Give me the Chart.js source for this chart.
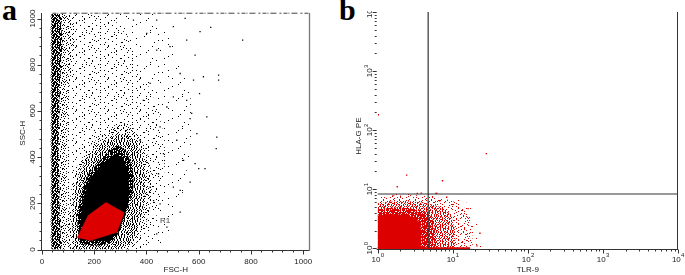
<!DOCTYPE html>
<html>
<head>
<meta charset="utf-8">
<script src="https://cdn.jsdelivr.net/npm/chart.js@4.4.1/dist/chart.umd.min.js"></script>
<style>
  html, body { margin: 0; padding: 0; background: #fff; overflow: hidden; }
  body { width: 685px; height: 275px; position: relative; }
  .tag { position: absolute; top: -5px; font: bold 30px/30px "Liberation Serif", "Times New Roman", serif; color: #000; }
  #wrapA { position: absolute; left: 0; top: 0; width: 330px; height: 275px; }
  #wrapB { position: absolute; left: 340px; top: 11px; width: 345px; height: 264px; overflow: hidden; }
  #chartB { position: absolute; left: 0; top: -3px; }
</style>
</head>
<body>
<div class="tag" style="left:2px">a</div>
<div class="tag" style="left:339px">b</div>
<div id="wrapA"><canvas id="chartA" width="330" height="275"></canvas></div>
<div id="wrapB"><canvas id="chartB" width="345" height="267"></canvas></div>

<script>
// ---------- panel a : FSC-H vs SSC-H (linear channels 0..1024)
const aTickLabels = ['0', '200', '400', '600', '800', '1000'];
const aMinorStep = 40;
const aTitleX = 'FSC-H';
const aTitleY = 'SSC-H';

// gate R1 (red events)
const aGateX = [135, 177, 245, 314, 286, 184];
const aGateY = [51, 147, 203, 159, 75, 39];
const aGateName = 'R1';
const aGateLabelAt = [471, 126];

// main population: solid core, dense ring, mid ring, halo
const aCoreInX = [155, 148, 160, 185, 230, 275, 310, 330, 335, 320, 295, 255];
const aCoreInY = [40, 140, 230, 310, 370, 410, 400, 330, 250, 160, 80, 35];
const aCoreX = [146, 139, 133, 146, 158, 178, 222, 260, 290, 320, 337, 350, 350, 337, 318, 292, 261, 200];
const aCoreY = [25, 68, 140, 213, 270, 328, 386, 430, 450, 430, 386, 328, 270, 213, 140, 68, 25, 15];
const aRingX = [120, 115, 125, 150, 190, 240, 290, 330, 365, 385, 395, 390, 370, 340, 300];
const aRingY = [0, 120, 260, 350, 420, 470, 500, 500, 460, 400, 300, 200, 100, 30, 0];
const aHaloX = [105, 100, 110, 130, 170, 220, 280, 330, 370, 400, 420, 420, 400, 370, 340];
const aHaloY = [0, 100, 250, 350, 430, 490, 540, 550, 500, 430, 330, 220, 120, 40, 0];

// debris column near the low FSC edge
const aColDenseX = [36, 36, 72, 78, 68, 64, 68, 74];
const aColDenseY = [0, 1020, 1020, 900, 700, 450, 150, 0];
const aColX = [33, 33, 120, 125, 105, 95, 95, 105];
const aColY = [0, 1020, 1020, 900, 700, 450, 150, 0];

// scattered events in the upper field
const aLightX = [60, 60, 260, 330, 380, 440, 470, 470, 450, 420, 380];
const aLightY = [0, 1020, 1020, 920, 780, 620, 480, 350, 200, 60, 0];
const aSparseX = [60, 60, 430, 520, 570, 570, 540, 500, 460];
const aSparseY = [0, 1020, 1020, 850, 650, 450, 250, 100, 0];

// single outlying events
const aOutX = [548, 605, 646, 768, 676, 573, 567, 603, 593, 669, 667, 586, 600, 624, 567, 529,
               529, 452, 478, 427, 446, 465, 452, 478, 503, 529, 490, 586, 580, 554, 516, 542,
               503, 439, 414, 631, 401, 439, 414, 388, 375, 503, 554, 439, 350, 618, 676];
const aOutY = [1001, 943, 962, 907, 733, 589, 567, 675, 502, 487, 437, 372, 350, 350, 292, 256,
               162, 198, 97, 212, 328, 415, 531, 617, 661, 762, 878, 842, 733, 646, 473, 386,
               270, 68, 270, 574, 936, 863, 719, 646, 473, 965, 907, 993, 993, 748, 755];

// events piled up on the top channel
const aTopRowX = [40, 1024];
const aTopRowY = [1023, 1023];

// ---------- panel b : TLR-9 vs HLA-G PE (log decades 10^0..10^4)
const bTickValues = [1, 10, 100, 1000, 10000];
const bTickExponents = ['0', '1', '2', '3', '4'];
const bTitleX = 'TLR-9';
const bTitleY = 'HLA-G PE';

const bQuadX = 4.7;
const bQuadY = 8.3;

const bCoreInX = [1, 1, 1.5, 2.2, 3, 3.6, 3.8, 3.8];
const bCoreInY = [1, 3.6, 3.8, 3.7, 3.4, 2.8, 2, 1];
const bCoreX = [1, 1, 1.6, 2.5, 3.5, 4.3, 5, 5.6, 5.8, 5.8];
const bCoreY = [1, 4.6, 4.9, 4.8, 4.5, 4.1, 3.6, 2.8, 2, 1];
const bMidX = [1, 1, 2, 3, 4.5, 6, 8, 9.5, 10.5, 11];
const bMidY = [1, 5.8, 6.3, 6.2, 5.8, 5.3, 4.6, 3.6, 2.3, 1];
const bLightX = [1, 1, 3, 5, 8, 11, 14, 16.5, 18, 18.5];
const bLightY = [1, 7.5, 8, 7.6, 6.8, 6, 5, 3.8, 2.4, 1];
const bSparseX = [1, 1, 5, 10, 15, 20, 24, 25];
const bSparseY = [1, 8.3, 8.5, 7.5, 6, 4, 2, 1];
const bBottomRowX = [1, 17];
const bBottomRowY = [1, 1];

const bOutX = [28, 1.02, 2.43, 1.82, 7.3, 5.97, 3.37, 3.8, 6.1, 6.7, 8.3, 16, 23, 1.6, 1.5, 21];
const bOutY = [40, 182, 17.3, 11, 13.9, 8.5, 8.5, 8.6, 8.5, 6.4, 7.3, 4.7, 1.8, 7.8, 6, 1.1];

// ---------- styles
const RED = '#dc0000';
const INK = '#222';
const FONT = '8px "Liberation Sans", Arial, sans-serif';
const SUP_FONT = '6px "Liberation Sans", Arial, sans-serif';

// speckle texture: a dot is drawn where the cell's rank is below the level
const RANKS = [
    '7k0qa3zm9xb1tc5w', 'e2yh8r6gs0nl4fu1', 'p9c3vd7j1ow5k2ai', '4xmz0b8qe6tyh3rg',
    's1l5nf2u9ca7pwd0', 'kjo6g3xi4ve8m1zb', '2t8r0hq5yl6sa9jn', 'dwc7pu1fk3xb0eo4',
    'm5ag9z2iv8rn6tc1', '0yhs4l7bqj1wgx3e', '9uf2oc6dm0pk5yi7', 'ra3n8e1xw4hz2svb',
    'l6tj0gq9b5ua8kf3', 'hz1v7ms3o2ec0yd6', '8bpk5wi6ngx4rj1q', '3e9dl2tc7af0uh5m'
];

const pts = (xs, ys) => xs.map((x, i) => ({ x, y: ys[i] }));

function speckle(ctx, level, spacing, color) {
    const c = document.createElement('canvas');
    c.width = c.height = 16 * spacing;
    const g = c.getContext('2d');
    g.fillStyle = color;
    RANKS.forEach((row, r) => {
        for (let k = 0; k < row.length; k++) {
            if (parseInt(row[k], 36) < level) g.fillRect(k * spacing, r * spacing, 1, 1);
        }
    });
    return ctx.createPattern(c, 'repeat');
}

function area(xs, ys, fillStyle) {
    return { type: 'line', data: pts(xs, ys), fill: 'shape', backgroundColor: fillStyle,
             borderColor: 'rgba(0,0,0,0)', borderWidth: 0, pointRadius: 0, tension: 0 };
}

function dots(xs, ys, color, r) {
    return { type: 'scatter', data: pts(xs, ys), pointStyle: 'rect', pointRadius: r,
             backgroundColor: color, borderWidth: 0 };
}

function rule(xs, ys, color, width, dash) {
    return { type: 'line', data: pts(xs, ys), borderColor: color, borderWidth: width,
             borderDash: dash || [], pointRadius: 0, fill: false, tension: 0, clip: false };
}

function vText(ctx, text, cx, cy) {
    ctx.save();
    ctx.translate(cx, cy);
    ctx.rotate(-Math.PI / 2);
    ctx.fillText(text, 0, 0);
    ctx.restore();
}

function powLabel(ctx, exp, cx, cy, rotate) {
    ctx.save();
    ctx.translate(cx, cy);
    if (rotate) ctx.rotate(-Math.PI / 2);
    ctx.font = FONT;
    const w1 = ctx.measureText('10').width;
    ctx.font = SUP_FONT;
    const w2 = ctx.measureText(exp).width;
    const x0 = -(w1 + w2) / 2;
    ctx.textAlign = 'left';
    ctx.textBaseline = 'middle';
    ctx.font = FONT;
    ctx.fillText('10', x0, 0);
    ctx.font = SUP_FONT;
    ctx.fillText(exp, x0 + w1 + 0.3, -3.5);
    ctx.restore();
}

// axes of panel a: y line, x line, grey right border, 40-channel ticks
const axesA = {
    id: 'axesA',
    afterDraw(chart) {
        const { ctx, chartArea: ca, scales: { x, y } } = chart;
        const axisY = Math.round(ca.bottom) + 0.5;
        const axisX = Math.round(ca.left) - 0.5;
        const maxV = Number(aTickLabels[aTickLabels.length - 1]);
        ctx.save();
        ctx.lineWidth = 1;
        ctx.strokeStyle = '#333';
        ctx.beginPath();
        ctx.moveTo(axisX, ca.top); ctx.lineTo(axisX, axisY);
        ctx.moveTo(ca.left - 2, axisY); ctx.lineTo(ca.right, axisY);
        for (let v = 0; v <= maxV; v += aMinorStep) {
            const len = v % 200 === 0 ? 4 : 2;
            const px = Math.round(x.getPixelForValue(v)) + 0.5;
            ctx.moveTo(px, axisY); ctx.lineTo(px, axisY + len);
            const py = Math.round(y.getPixelForValue(v)) + 0.5;
            ctx.moveTo(axisX, py); ctx.lineTo(axisX - len, py);
        }
        ctx.stroke();
        ctx.strokeStyle = '#777';
        ctx.lineWidth = 1.3;
        ctx.beginPath();
        ctx.moveTo(ca.right, ca.top); ctx.lineTo(ca.right, axisY);
        ctx.stroke();

        ctx.fillStyle = INK;
        ctx.font = FONT;
        ctx.textAlign = 'center';
        ctx.textBaseline = 'middle';
        aTickLabels.forEach(t => {
            const v = Number(t);
            ctx.fillText(t, x.getPixelForValue(v), ca.bottom + 12);
            vText(ctx, t, ca.left - 9.5, y.getPixelForValue(v));
        });
        ctx.fillText(aTitleX, (ca.left + ca.right) / 2, ca.bottom + 20);
        vText(ctx, aTitleY, ca.left - 19, (ca.top + ca.bottom) / 2 + 2);

        ctx.fillStyle = '#444';
        ctx.fillText(aGateName, x.getPixelForValue(aGateLabelAt[0]), y.getPixelForValue(aGateLabelAt[1]));
        ctx.restore();
    }
};

// axes of panel b: bottom line, right border, log ticks with 10^n labels
const axesB = {
    id: 'axesB',
    afterDraw(chart) {
        const { ctx, chartArea: ca, scales: { x, y } } = chart;
        const axisY = Math.round(ca.bottom) + 1.5;
        ctx.save();
        ctx.lineWidth = 1;
        ctx.strokeStyle = '#333';
        ctx.beginPath();
        ctx.moveTo(ca.left - 1, axisY); ctx.lineTo(ca.right, axisY);
        ctx.moveTo(Math.round(ca.right) - 0.5, ca.top); ctx.lineTo(Math.round(ca.right) - 0.5, axisY);
        bTickValues.forEach((dec, i) => {
            const steps = i < bTickValues.length - 1 ? [1, 2, 3, 4, 5, 6, 7, 8, 9] : [1];
            steps.forEach(m => {
                const v = dec * m;
                const len = m === 1 ? 4 : 2;
                const px = Math.round(x.getPixelForValue(v)) + 0.5;
                ctx.moveTo(px, axisY); ctx.lineTo(px, axisY + len);
                const py = Math.round(y.getPixelForValue(v)) + 0.5;
                ctx.moveTo(ca.left - 1, py); ctx.lineTo(ca.left - 1 - len, py);
            });
        });
        ctx.stroke();

        ctx.fillStyle = INK;
        bTickValues.forEach((v, i) => {
            powLabel(ctx, bTickExponents[i], x.getPixelForValue(v), ca.bottom + 11, false);
            powLabel(ctx, bTickExponents[i], ca.left - 7.5, y.getPixelForValue(v), true);
        });
        ctx.font = FONT;
        ctx.textAlign = 'center';
        ctx.textBaseline = 'middle';
        ctx.fillText(bTitleX, (ca.left + ca.right) / 2, ca.bottom + 21.5);
        vText(ctx, bTitleY, ca.left - 19.2, (ca.top + ca.bottom) / 2 + 6);
        ctx.restore();
    }
};

const baseOptions = (padding, xScale, yScale) => ({
    responsive: false,
    animation: false,
    events: [],
    layout: { padding },
    scales: { x: xScale, y: yScale },
    plugins: { legend: { display: false }, tooltip: { enabled: false } }
});

// ---------- chart a
const ctxA = document.getElementById('chartA').getContext('2d');
const gate = area(aGateX, aGateY, RED);
gate.borderColor = RED;
gate.borderWidth = 0.8;

new Chart(ctxA, {
    type: 'scatter',
    data: {
        datasets: [
            gate,
            dots(aOutX, aOutY, '#000', 0.9),
            rule(aTopRowX, aTopRowY, '#444', 1, [4, 1, 1, 2, 6, 3, 2, 2]),
            area(aCoreInX, aCoreInY, '#000'),
            area(aCoreX, aCoreY, speckle(ctxA, 27, 1, '#000')),
            area(aColDenseX, aColDenseY, speckle(ctxA, 22, 1, '#000')),
            area(aRingX, aRingY, speckle(ctxA, 10, 1, '#000')),
            area(aHaloX, aHaloY, speckle(ctxA, 4, 1, '#000')),
            area(aColX, aColY, speckle(ctxA, 4, 1, '#000')),
            area(aLightX, aLightY, speckle(ctxA, 1, 1, '#000')),
            area(aSparseX, aSparseY, speckle(ctxA, 2, 2, '#000'))
        ]
    },
    options: baseOptions({ left: 42, right: 20.5, top: 13, bottom: 25.5 },
        { type: 'linear', min: 0, max: 1024, display: false },
        { type: 'linear', min: 0, max: 1024, display: false }),
    plugins: [axesA]
});

// ---------- chart b
const ctxB = document.getElementById('chartB').getContext('2d');
new Chart(ctxB, {
    type: 'scatter',
    data: {
        datasets: [
            rule([bQuadX, bQuadX], [1, 10000], '#333', 1.2),
            rule([1, 10000], [bQuadY, bQuadY], '#333', 1.2),
            dots(bOutX, bOutY, RED, 1.0),
            rule(bBottomRowX, bBottomRowY, RED, 2),
            area(bCoreInX, bCoreInY, RED),
            area(bCoreX, bCoreY, speckle(ctxB, 27, 1, RED)),
            area(bMidX, bMidY, speckle(ctxB, 12, 1, RED)),
            area(bLightX, bLightY, speckle(ctxB, 3, 1, RED)),
            area(bSparseX, bSparseY, speckle(ctxB, 2, 2, RED))
        ]
    },
    options: baseOptions({ left: 37.7, right: 7, top: 0.5, bottom: 26.7 },
        { type: 'logarithmic', min: 1, max: 10000, display: false },
        { type: 'logarithmic', min: 1, max: 10000, display: false }),
    plugins: [axesB]
});
</script>
</body>
</html>
